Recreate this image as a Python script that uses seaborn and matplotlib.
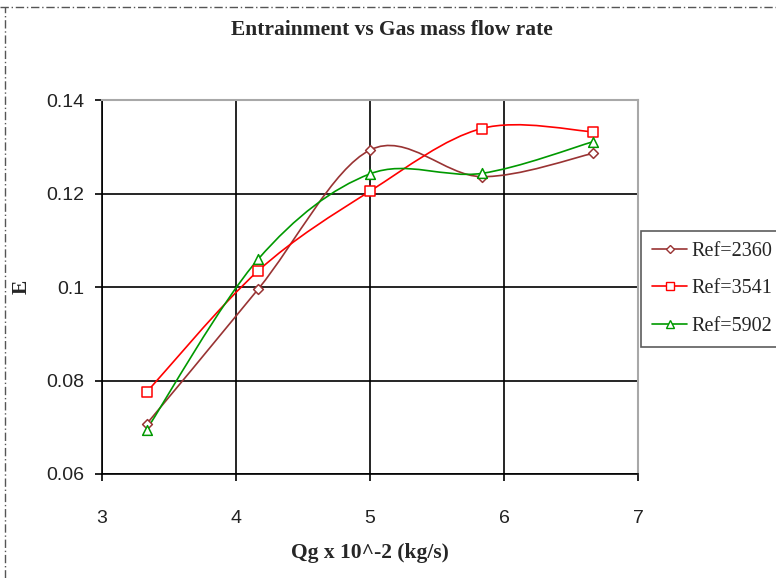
import numpy as np
import pandas as pd
import matplotlib
matplotlib.use('Agg')
import matplotlib.pyplot as plt
from matplotlib.path import Path
from matplotlib.patches import PathPatch
from matplotlib.lines import Line2D
import seaborn as sns

# data
qg = [3.333, 4.167, 5.0, 5.833, 6.667]
e_2360 = [0.0707, 0.0996, 0.1293, 0.1236, 0.1286]
e_3541 = [0.0775, 0.1035, 0.1205, 0.1339, 0.1332]
e_5902 = [0.0695, 0.1060, 0.1242, 0.1243, 0.1311]
series_names = ['Ref=2360', 'Ref=3541', 'Ref=5902']
colors = ['#993333', '#FF0000', '#009900']
markers = ['D', 's', '^']
msizes = [5, 7, 7]

df = pd.DataFrame({
    'Qg': qg * 3,
    'E': e_2360 + e_3541 + e_5902,
    'series': [s for s in series_names for _ in qg],
})

sns.set_style('white')
plt.rcParams['font.family'] = ['Liberation Serif', 'DejaVu Serif']


def smooth_path(x, y):
    # Catmull-Rom -> cubic bezier, like Excel "smoothed line"
    p = np.column_stack([x, y])
    n = len(p)
    verts = [p[0]]
    codes = [Path.MOVETO]
    for i in range(n - 1):
        p0 = p[i - 1] if i > 0 else p[i]
        p3 = p[i + 2] if i + 2 < n else p[i + 1]
        c1 = p[i] + (p[i + 1] - p0) / 6
        c2 = p[i + 1] - (p3 - p[i]) / 6
        verts += [c1, c2, p[i + 1]]
        codes += [Path.CURVE4] * 3
    return Path(verts, codes)


fig = plt.figure(figsize=(7.76, 5.78), dpi=100)
ax = fig.add_axes([102 / 776, 1 - 474 / 578, 536 / 776, 374 / 578])

for name, col, mk, ms in zip(series_names, colors, markers, msizes):
    sub = df[df['series'] == name]
    ax.add_patch(PathPatch(smooth_path(sub['Qg'].values, sub['E'].values),
                           facecolor='none', edgecolor=col, lw=1.2, zorder=3))
    sns.scatterplot(data=sub, x='Qg', y='E', ax=ax, marker=mk, s=ms ** 2,
                    facecolor='white', edgecolor=col, linewidth=1.1,
                    zorder=4, legend=False)

ax.set_xlim(3, 7)
ax.set_ylim(0.06, 0.14)
ax.set_xticks([3, 4, 5, 6, 7])
ax.set_yticks([0.06, 0.08, 0.1, 0.12, 0.14])
ax.set_xticklabels(['3', '4', '5', '6', '7'])
ax.set_yticklabels(['0.06', '0.08', '0.1', '0.12', '0.14'])
for lab in ax.get_xticklabels() + ax.get_yticklabels():
    lab.set_fontfamily('Liberation Sans')
    lab.set_fontsize(14)
    lab.set_color('#222222')
ax.tick_params(direction='out', length=5, width=1.2, color='black',
               bottom=True, left=True)
ax.tick_params(axis='x', pad=21)
ax.tick_params(axis='y', pad=8)
ax.grid(True, color='black', lw=1.2)
ax.set_axisbelow(True)
for side in ['top', 'right']:
    ax.spines[side].set_color('#a8a8a8')
    ax.spines[side].set_linewidth(1.5)
for side in ['left', 'bottom']:
    ax.spines[side].set_color('black')
    ax.spines[side].set_linewidth(1.2)

ax.set_xlabel('Qg x 10^-2 (kg/s)', fontsize=15.5, fontweight='bold', va='center')
ax.xaxis.set_label_coords((370 - 102) / 536, (474 - 553) / 374)
ax.set_ylabel('E', fontsize=15.5, fontweight='bold', va='center')
ax.yaxis.set_label_coords((22 - 102) / 536, 0.5)
fig.text(392 / 776, 1 - 30 / 578, 'Entrainment vs Gas mass flow rate',
         ha='center', va='center', fontsize=15.5, fontweight='bold')

handles = [Line2D([0], [0], color=c, marker=m, markersize=ms - 1, lw=1.2,
                  markerfacecolor='white', markeredgecolor=c)
           for c, m, ms in zip(colors, markers, msizes)]
leg = fig.legend(handles, series_names, loc='upper left',
                 bbox_to_anchor=(641 / 776, 1 - 231 / 578),
                 frameon=True, fancybox=False, fontsize=14.5,
                 handlelength=1.75, handletextpad=0.2, labelspacing=0.9,
                 borderpad=0.55, borderaxespad=0)
leg.get_frame().set_edgecolor('#333333')
leg.get_frame().set_linewidth(1.2)

# dashed chart border at the top/left edges
fig.add_artist(Line2D([0, 1], [1 - 7 / 578] * 2, color='#555555', lw=1,
                      ls=(0, (6, 2, 1, 2)), transform=fig.transFigure))
fig.add_artist(Line2D([5 / 776] * 2, [0, 1 - 7 / 578], color='#555555', lw=1,
                      ls=(0, (6, 2, 1, 2)), transform=fig.transFigure))

fig.savefig('out.png', dpi=100)
